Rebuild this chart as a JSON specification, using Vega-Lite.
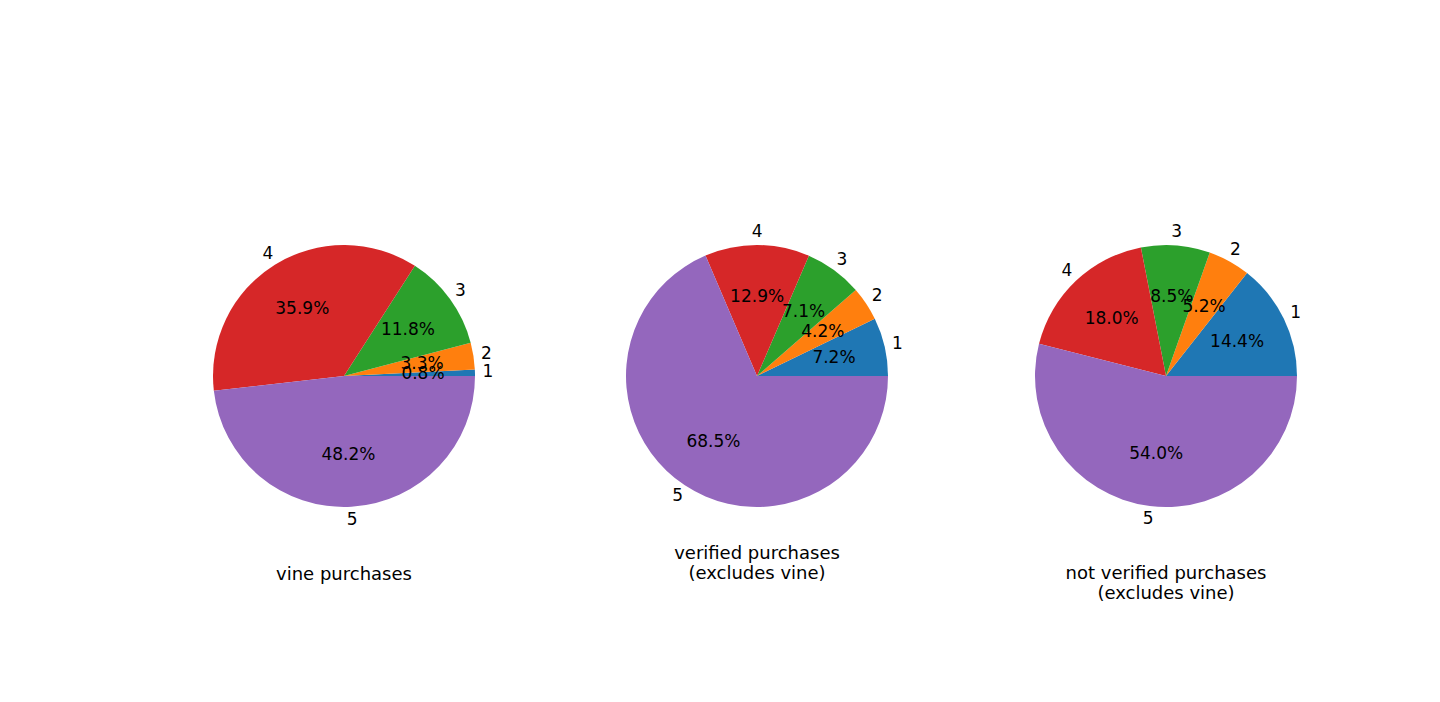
{
  "$schema": "https://vega.github.io/schema/vega-lite/v6.json",
  "background": "white",
  "padding": {"left": 213, "top": 223, "right": 0, "bottom": 0},
  "config": {
    "view": {"stroke": null},
    "font": "DejaVu Sans",
    "concat": {"spacing": 132},
    "title": {"fontSize": 18, "fontWeight": "normal", "color": "black", "font": "DejaVu Sans"}
  },
  "data": {
    "values": [
      {"group": "vine", "rating": 1, "pct": 0.8},
      {"group": "vine", "rating": 2, "pct": 3.3},
      {"group": "vine", "rating": 3, "pct": 11.8},
      {"group": "vine", "rating": 4, "pct": 35.9},
      {"group": "vine", "rating": 5, "pct": 48.2},
      {"group": "verified", "rating": 1, "pct": 7.2},
      {"group": "verified", "rating": 2, "pct": 4.2},
      {"group": "verified", "rating": 3, "pct": 7.1},
      {"group": "verified", "rating": 4, "pct": 12.9},
      {"group": "verified", "rating": 5, "pct": 68.5},
      {"group": "notverified", "rating": 1, "pct": 14.4},
      {"group": "notverified", "rating": 2, "pct": 5.2},
      {"group": "notverified", "rating": 3, "pct": 8.5},
      {"group": "notverified", "rating": 4, "pct": 18.0},
      {"group": "notverified", "rating": 5, "pct": 54.0}
    ]
  },
  "transform": [{"calculate": "format(datum.pct, '.1f') + '%'", "as": "pctLabel"}],
  "hconcat": [
    {
      "width": 262, "height": 262,
      "title": {"text": "vine purchases", "orient": "bottom", "offset": 38},
      "transform": [{"filter": "datum.group === 'vine'"}],
      "encoding": {
        "theta": {"field": "pct", "type": "quantitative", "stack": true, "scale": {"range": [1.5708, -4.7124]}},
        "order": {"field": "rating"}
      },
      "layer": [
        {"mark": {"type": "arc", "outerRadius": 131},
         "encoding": {"color": {"field": "rating", "type": "nominal", "legend": null, "scale": {"domain": [1,2,3,4,5], "range": ["#1f77b4", "#ff7f0e", "#2ca02c", "#d62728", "#9467bd"]}}}},
        {"mark": {"type": "text", "radius": 79, "fontSize": 17}, "encoding": {"text": {"field": "pctLabel"}}},
        {"mark": {"type": "text", "radius": 144, "fontSize": 17}, "encoding": {"text": {"field": "rating"}}}
      ]
    },
    {
      "width": 262, "height": 262,
      "title": {"text": ["verified purchases", " (excludes vine)"], "orient": "bottom", "offset": 38},
      "transform": [{"filter": "datum.group === 'verified'"}],
      "encoding": {
        "theta": {"field": "pct", "type": "quantitative", "stack": true, "scale": {"range": [1.5708, -4.7124]}},
        "order": {"field": "rating"}
      },
      "layer": [
        {"mark": {"type": "arc", "outerRadius": 131},
         "encoding": {"color": {"field": "rating", "type": "nominal", "legend": null, "scale": {"domain": [1,2,3,4,5], "range": ["#1f77b4", "#ff7f0e", "#2ca02c", "#d62728", "#9467bd"]}}}},
        {"mark": {"type": "text", "radius": 79, "fontSize": 17}, "encoding": {"text": {"field": "pctLabel"}}},
        {"mark": {"type": "text", "radius": 144, "fontSize": 17}, "encoding": {"text": {"field": "rating"}}}
      ]
    },
    {
      "width": 262, "height": 262,
      "title": {"text": ["not verified purchases", " (excludes vine)"], "orient": "bottom", "offset": 38},
      "transform": [{"filter": "datum.group === 'notverified'"}],
      "encoding": {
        "theta": {"field": "pct", "type": "quantitative", "stack": true, "scale": {"range": [1.5708, -4.7124]}},
        "order": {"field": "rating"}
      },
      "layer": [
        {"mark": {"type": "arc", "outerRadius": 131},
         "encoding": {"color": {"field": "rating", "type": "nominal", "legend": null, "scale": {"domain": [1,2,3,4,5], "range": ["#1f77b4", "#ff7f0e", "#2ca02c", "#d62728", "#9467bd"]}}}},
        {"mark": {"type": "text", "radius": 79, "fontSize": 17}, "encoding": {"text": {"field": "pctLabel"}}},
        {"mark": {"type": "text", "radius": 144, "fontSize": 17}, "encoding": {"text": {"field": "rating"}}}
      ]
    }
  ]
}
